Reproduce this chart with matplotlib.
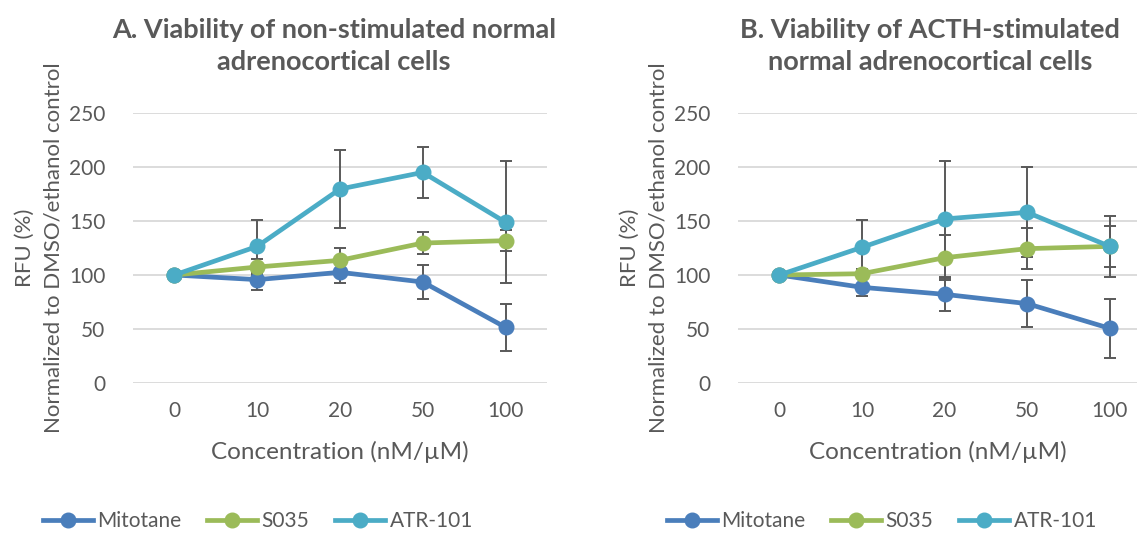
import numpy as np
import matplotlib.pyplot as plt

plt.rcParams['font.family'] = ['Lato', 'DejaVu Sans']
plt.rcParams['text.color'] = '#595959'
plt.rcParams['axes.labelcolor'] = '#595959'

conc = ['0', '10', '20', '50', '100']
series = ['Mitotane', 'S035', 'ATR-101']
colors = ['#4a7ebb', '#9bbb59', '#4bacc6']

# panel A: non-stimulated
mit_a = [100, 95.7, 102.5, 93.5, 51.5]
mit_a_err = [0, 10, 10.2, 15.5, 22]
s035_a = [100, 107.4, 113.6, 129.6, 131.8]
s035_a_err = [0, 7, 11.4, 10, 10]
atr_a = [100, 126.5, 179.6, 195, 148.8]
atr_a_err = [0, 24.7, 36, 23.5, 56.4]

# panel B: ACTH-stimulated
mit_b = [100, 88.6, 82.1, 73.5, 50.6]
mit_b_err = [0, 8.4, 15.4, 21.8, 27.3]
s035_b = [100, 101.2, 116, 124.4, 126.5]
s035_b_err = [0, 4, 21, 19.3, 19.3]
atr_b = [100, 125.6, 151.9, 158, 126.5]
atr_b_err = [0, 25, 53.7, 41.7, 28.4]

W, H = 1137, 533
fig = plt.figure(figsize=(W/100, H/100), dpi=100)

def px(l, t, r, b):
    return [l/W, 1 - b/H, (r-l)/W, (b-t)/H]

def panel(ax, vals, errs, xmax):
    x = np.arange(len(conc))
    for v, e, c, name in zip(vals, errs, colors, series):
        ax.errorbar(x, v, yerr=e, fmt='none', ecolor='#595959', elinewidth=1.4,
                    capsize=4.5, capthick=1.4, zorder=2)
        ax.plot(x, v, '-o', color=c, lw=3.4, ms=10.5, label=name, zorder=3, clip_on=False)
    ax.set_xlim(-0.5, xmax)
    ax.set_ylim(0, 250)
    ax.set_yticks(range(0, 251, 50))
    ax.set_xticks(x)
    ax.set_xticklabels(conc)
    ax.grid(axis='y', color='#d9d9d9', lw=1.3)
    ax.set_axisbelow(True)
    for s in ax.spines.values():
        s.set_visible(False)
    ax.tick_params(length=0, labelsize=15, labelcolor='#595959')
    ax.tick_params(axis='y', pad=20)
    ax.tick_params(axis='x', pad=13)
    ax.set_xlabel('Concentration (nM/\u00b5M)', fontsize=17.5, labelpad=14)
    ax.set_ylabel('RFU (%)\nNormalized to DMSO/ethanol control', fontsize=16,
                  labelpad=4, linespacing=1.55)

ax1 = fig.add_axes(px(133, 113, 547, 383))
panel(ax1, [mit_a, s035_a, atr_a], [mit_a_err, s035_a_err, atr_a_err], 4.5)
ax2 = fig.add_axes(px(738, 113, 1137, 383))
panel(ax2, [mit_b, s035_b, atr_b], [mit_b_err, s035_b_err, atr_b_err], 4.33)

fig.text(334/W, 1 - 46/H, 'A. Viability of non-stimulated normal\nadrenocortical cells',
         ha='center', va='center', fontsize=19.5, fontweight='bold', linespacing=1.4)
fig.text(930/W, 1 - 46/H, 'B. Viability of ACTH-stimulated\nnormal adrenocortical cells',
         ha='center', va='center', fontsize=19.5, fontweight='bold', linespacing=1.4)

for ax, cx in [(ax1, 258), (ax2, 882)]:
    h, l = ax.get_legend_handles_labels()
    fig.legend(h, l, loc='center', bbox_to_anchor=(cx/W, 1 - 521/H), ncol=3,
               frameon=False, fontsize=15, handlelength=2.4, columnspacing=1.25,
               handletextpad=0.2, labelcolor='#595959')

fig.savefig('out.png', dpi=100)
